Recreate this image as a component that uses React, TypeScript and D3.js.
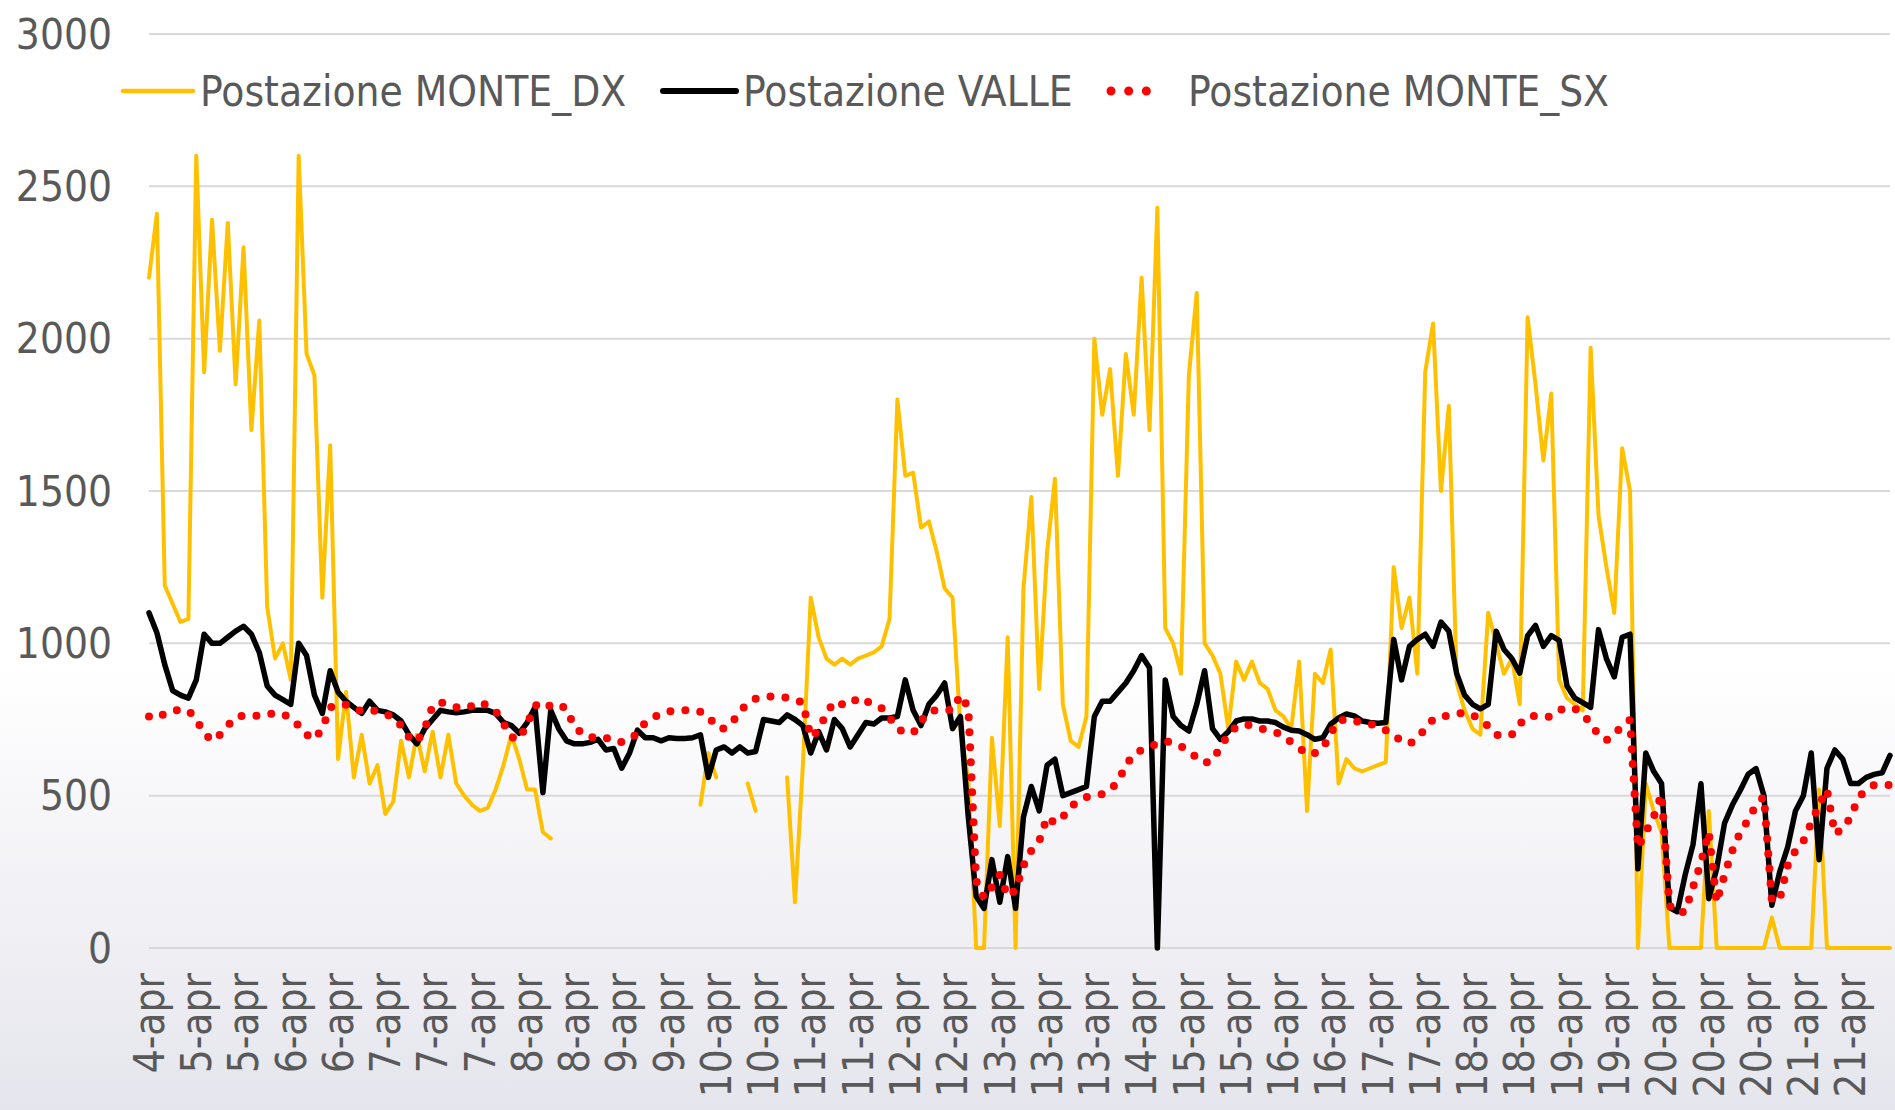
import { useEffect, useRef } from 'react';
import * as d3 from 'd3';

const WIDTH = 1895;
const HEIGHT = 1110;

// etichette asse x: una ogni LABEL_EVERY categorie
const tickLabels = [
  '4-apr', '5-apr', '5-apr', '6-apr', '6-apr', '7-apr', '7-apr', '7-apr', '8-apr', '8-apr',
  '9-apr', '9-apr', '10-apr', '10-apr', '11-apr', '11-apr', '12-apr', '12-apr', '13-apr', '13-apr',
  '13-apr', '14-apr', '15-apr', '15-apr', '16-apr', '16-apr', '17-apr', '17-apr', '18-apr', '18-apr',
  '19-apr', '19-apr', '20-apr', '20-apr', '20-apr', '21-apr', '21-apr',
];
const LABEL_EVERY = 6;

const seriesNames = ['Postazione MONTE_DX', 'Postazione VALLE', 'Postazione MONTE_SX'];

// Postazione MONTE_DX (null = dato mancante)
const monteDx: (number | null)[] = [
  2200, 2410, 1190, 1130, 1070, 1080,
  2600, 1890, 2390, 1960, 2380, 1850,
  2300, 1700, 2060, 1120, 950, 1000,
  880, 2600, 1950, 1880, 1150, 1650,
  620, 840, 560, 700, 540, 600,
  440, 480, 680, 560, 700, 580,
  710, 560, 700, 540, 500, 470,
  450, 460, 520, 600, 700, 620,
  520, 520, 380, 360, null, null,
  null, null, null, null, null, null,
  null, null, null, null, null, null,
  null, null, null, null, 470, 640,
  560, null, null, null, 540, 450,
  null, null, null, 560, 150, 600,
  1150, 1020, 950, 930, 950, 930,
  950, 960, 970, 990, 1080, 1800,
  1550, 1560, 1380, 1400, 1300, 1180,
  1150, 720, 550, 0, 0, 690,
  400, 1020, 0, 1180, 1480, 850,
  1300, 1540, 800, 680, 660, 760,
  2000, 1750, 1900, 1550, 1950, 1750,
  2200, 1700, 2430, 1050, 1000, 900,
  1880, 2150, 1000, 960, 900, 720,
  940, 880, 940, 870, 850, 780,
  760, 720, 940, 450, 900, 870,
  980, 540, 620, 590, 580, 590,
  600, 610, 1250, 1050, 1150, 900,
  1890, 2050, 1500, 1780, 870, 780,
  720, 700, 1100, 1000, 900, 950,
  800, 2070, 1850, 1600, 1820, 880,
  820, 800, 780, 1970, 1420, 1250,
  1100, 1640, 1500, 0, 540, 450,
  380, 0, 0, 0, 0, 0,
  450, 0, 0, 0, 0, 0,
  0, 0, 100, 0, 0, 0,
  0, 0, 520, 0, 0, 0,
  0, 0, 0, 0, 0, 0,
];

// Postazione VALLE
const valle: number[] = [
  1100, 1035, 930, 845, 830, 820,
  880, 1030, 1000, 1000, 1020, 1040,
  1056, 1030, 970, 860, 830, 815,
  800, 1000, 960, 830, 770, 910,
  840, 810, 790, 770, 810, 780,
  775, 765, 745, 700, 670, 720,
  750, 780, 775, 772, 775, 780,
  780, 780, 770, 740, 730, 705,
  740, 790, 510, 780, 720, 680,
  670, 670, 675, 685, 650, 655,
  590, 640, 715, 690, 690, 680,
  690, 688, 688, 690, 700, 560,
  650, 660, 640, 660, 640, 645,
  750, 745, 740, 765, 750, 730,
  640, 710, 650, 750, 720, 660,
  700, 740, 735, 755, 755, 760,
  880, 780, 730, 800, 830, 870,
  720, 760, 430, 170, 130, 290,
  150, 300, 130, 430, 530, 450,
  600, 620, 500, 510, 520, 530,
  760, 810, 810, 840, 870, 910,
  960, 920, 0, 880, 760, 730,
  712, 800, 910, 720, 685, 710,
  745, 752, 752, 745, 745, 740,
  725, 715, 712, 700, 685, 690,
  735, 755, 768, 762, 745, 740,
  738, 740, 1013, 880, 990, 1013,
  1030, 990, 1070, 1040, 900, 830,
  800, 785, 800, 1040, 980, 950,
  902, 1025, 1059, 990, 1025, 1010,
  860, 820, 805, 790, 1045, 950,
  890, 1020, 1030, 260, 640, 580,
  540, 133, 119, 240, 340, 539,
  162, 260, 410, 470, 518, 570,
  589, 500, 140, 250, 330, 450,
  500, 640, 290, 590, 650, 620,
  540, 540, 560, 570, 575, 632,
];

// Postazione MONTE_SX
const monteSx: number[] = [
  760, 754, 770, 780, 780, 780,
  750, 705, 680, 700, 730, 758,
  763, 764, 762, 765, 772, 768,
  755, 730, 700, 685, 720, 790,
  800, 798, 784, 778, 782, 777,
  770, 755, 730, 692, 676, 720,
  795, 807, 798, 790, 786, 795,
  807, 795, 778, 736, 692, 685,
  735, 795, 808, 793, 800, 785,
  725, 705, 690, 695, 690, 678,
  676, 683, 705, 740, 756, 770,
  776, 780, 780, 780, 775, 762,
  725, 720, 740, 775, 805, 818,
  823, 826, 825, 821, 815, 805,
  692, 715, 770, 809, 800, 798,
  822, 812, 795, 787, 757, 718,
  708, 705, 745, 775, 782, 783,
  780, 830, 790, 220, 165, 200,
  240, 170, 190, 270, 320, 350,
  430, 410, 430, 465, 480, 495,
  500, 505, 520, 545, 600, 635,
  650, 662, 670, 680, 672, 662,
  645, 625, 607, 615, 660, 700,
  725, 734, 730, 722, 713, 708,
  697, 675, 657, 635, 640, 655,
  705, 745, 752, 745, 740, 735,
  728, 715, 697, 680, 670, 688,
  720, 750, 760, 763, 768, 773,
  765, 750, 728, 700, 695, 700,
  735, 760, 762, 758, 760, 780,
  790, 785, 770, 735, 700, 682,
  700, 730, 749, 330, 380, 430,
  505, 140, 115, 120, 200, 280,
  380, 150, 240, 320, 380, 420,
  470, 497, 155, 160, 270, 320,
  350, 410, 470, 520, 375, 390,
  430, 494, 520, 535, 535, 535,
];

const FONT = "'DejaVu Sans Condensed', 'DejaVu Sans', sans-serif";
const TEXT_COLOR = '#595959';
const FONT_SIZE = '42px';

export default function App() {
  const svgRef = useRef<SVGSVGElement>(null);

  useEffect(() => {
    if (!svgRef.current) return;
    const svg = d3.select(svgRef.current);
    svg.selectAll('*').remove();

    const plotLeft = 149;
    const plotRight = 1890;
    const plotTop = 34;
    const plotBottom = 948;

    const x = d3.scaleLinear().domain([0, valle.length - 1]).range([plotLeft, plotRight]);
    const y = d3.scaleLinear().domain([0, 3000]).range([plotBottom, plotTop]);

    // sfondo con sfumatura in basso
    const defs = svg.append('defs');
    const grad = defs.append('linearGradient')
      .attr('id', 'bg')
      .attr('x1', 0).attr('y1', 0).attr('x2', 0).attr('y2', 1);
    grad.append('stop').attr('offset', '0.6').attr('stop-color', '#ffffff');
    grad.append('stop').attr('offset', '1').attr('stop-color', '#e5e5ed');
    svg.append('rect')
      .attr('width', WIDTH)
      .attr('height', HEIGHT)
      .attr('fill', 'url(#bg)');

    // griglia orizzontale
    const ticks = y.ticks(6);
    svg.append('g')
      .selectAll('line')
      .data(ticks)
      .enter()
      .append('line')
      .attr('x1', plotLeft)
      .attr('x2', plotRight)
      .attr('y1', d => y(d))
      .attr('y2', d => y(d))
      .attr('stroke', '#d9d9d9')
      .attr('stroke-width', 2);

    // etichette asse y
    svg.append('g')
      .selectAll('text')
      .data(ticks)
      .enter()
      .append('text')
      .attr('x', 112)
      .attr('y', d => y(d))
      .attr('dy', '0.35em')
      .attr('text-anchor', 'end')
      .attr('fill', TEXT_COLOR)
      .style('font-family', FONT)
      .style('font-stretch', 'condensed')
      .style('font-size', FONT_SIZE)
      .text(d => String(d));

    // etichette asse x (ruotate)
    svg.append('g')
      .selectAll('text')
      .data(tickLabels)
      .enter()
      .append('text')
      .attr('transform', (_, i) => `translate(${x(i * LABEL_EVERY)}, 973) rotate(-90)`)
      .attr('dy', '0.35em')
      .attr('text-anchor', 'end')
      .attr('fill', TEXT_COLOR)
      .style('font-family', FONT)
      .style('font-stretch', 'condensed')
      .style('font-size', FONT_SIZE)
      .text(d => d);

    const line = d3.line<number | null>()
      .defined(d => d !== null)
      .x((_, i) => x(i))
      .y(d => y(d as number));

    svg.append('path')
      .attr('d', line(monteDx))
      .attr('fill', 'none')
      .attr('stroke', '#FFC000')
      .attr('stroke-width', 4)
      .attr('stroke-linejoin', 'round')
      .attr('stroke-linecap', 'round');

    svg.append('path')
      .attr('d', line(valle))
      .attr('fill', 'none')
      .attr('stroke', '#000000')
      .attr('stroke-width', 5.5)
      .attr('stroke-linejoin', 'round')
      .attr('stroke-linecap', 'round');

    svg.append('path')
      .attr('d', line(monteSx))
      .attr('fill', 'none')
      .attr('stroke', '#FF0000')
      .attr('stroke-width', 8)
      .attr('stroke-dasharray', '0 15')
      .attr('stroke-linecap', 'round');

    // legenda
    const legendItems = [
      { name: seriesNames[0], x1: 123, x2: 193, tx: 200, color: '#FFC000', width: 4.5, dash: null },
      { name: seriesNames[1], x1: 663, x2: 736, tx: 743, color: '#000000', width: 6, dash: null },
      { name: seriesNames[2], x1: 1111, x2: 1164, tx: 1188, color: '#FF0000', width: 9, dash: '0 17.67' },
    ];
    const legend = svg.append('g');
    legendItems.forEach(item => {
      legend.append('line')
        .attr('x1', item.x1)
        .attr('x2', item.x2)
        .attr('y1', 91)
        .attr('y2', 91)
        .attr('stroke', item.color)
        .attr('stroke-width', item.width)
        .attr('stroke-linecap', 'round')
        .attr('stroke-dasharray', item.dash);
      legend.append('text')
        .attr('x', item.tx)
        .attr('y', 91)
        .attr('dy', '0.35em')
        .attr('fill', TEXT_COLOR)
        .style('font-family', FONT)
        .style('font-stretch', 'condensed')
        .style('font-size', FONT_SIZE)
        .text(item.name);
    });
  }, []);

  return (
    <svg
      ref={svgRef}
      width={WIDTH}
      height={HEIGHT}
      style={{ position: 'absolute', left: 0, top: 0, display: 'block' }}
    />
  );
}
